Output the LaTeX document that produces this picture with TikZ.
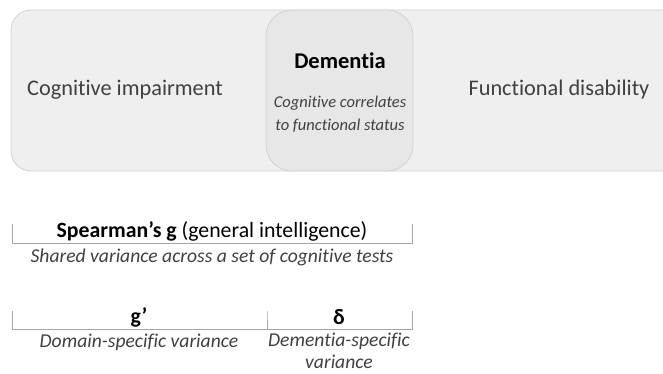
\documentclass[tikz,border=0pt]{standalone}
\usepackage{fontspec}
\setmainfont{Carlito}[Ligatures=NoCommon]
\usepackage{tikz}
\usetikzlibrary{positioning}
\definecolor{boxgray}{HTML}{EFEFEF}
\definecolor{midgray}{HTML}{E7E7E7}
\definecolor{edgegray}{HTML}{D2D2D2}
\definecolor{txtgray}{HTML}{404040}
\definecolor{brgray}{HTML}{A6A6A6}

\begin{document}
\begin{tikzpicture}[x=1pt,y=-1pt,
		outer box/.style={draw=edgegray,fill=boxgray,rounded corners=20pt,line width=0.8pt},
		mid box/.style={draw=edgegray,fill=midgray,rounded corners=26pt,line width=0.8pt},
		label text/.style={text=txtgray,font=\fontsize{22.3}{26}\selectfont,inner sep=0pt},
		note text/.style={text=txtgray,font=\itshape\fontsize{19.6}{22}\selectfont,inner sep=0pt,align=center},
		brace line/.style={draw=brgray,line width=0.8pt}]
		\useasboundingbox (0,0) rectangle (663,374);
		
		% top band
		\draw[outer box] (11,10) rectangle (690,171);
		\draw[mid box] (266,10) rectangle (413,171);
		
		\node[label text] (ci) at (125,90) {Cognitive impairment};
		\node[label text] (fd) at (559,90) {Functional disability};
		\node[label text,text=black,font=\bfseries\fontsize{22.5}{26}\selectfont] (dem) at (340,61) {Dementia};
		\node[note text,font=\itshape\fontsize{16.5}{22.5}\selectfont] (corr) at (340,114) {Cognitive correlates\\to functional status};
		
		% g bracket
		\coordinate (ga) at (12.5,224);
		\coordinate (gb) at (412.5,224);
		\draw[brace line] (ga) -- ++(0,19) -| (gb);
		\node[label text,text=black,font=\fontsize{21.8}{26}\selectfont] (spear) at (212,231) {\textbf{Spearman’s g} (general intelligence)};
		\node[note text] (shared) at (212,257) {Shared variance across a set of cognitive tests};
		
		% g' and delta brackets
		\coordinate (pa) at (12.5,311);
		\coordinate (pb) at (267,311);
		\coordinate (pc) at (412.5,311);
		\draw[brace line] (pa) -- ++(0,18) -| (pb) |- ++(145.5,18) -- (pc);
		\node[label text,text=black,font=\bfseries\fontsize{21.8}{26}\selectfont] (gp) at (139,317) {g’};
		\node[label text,text=black,font=\bfseries\fontsize{21.8}{26}\selectfont] (delta) at (339,317) {δ};
		\node[note text] (dom) at (139,342) {Domain-specific variance};
		\node[note text,anchor=north] (dsv) at (339,333) {Dementia-specific\\variance};
\end{tikzpicture}
\end{document}
